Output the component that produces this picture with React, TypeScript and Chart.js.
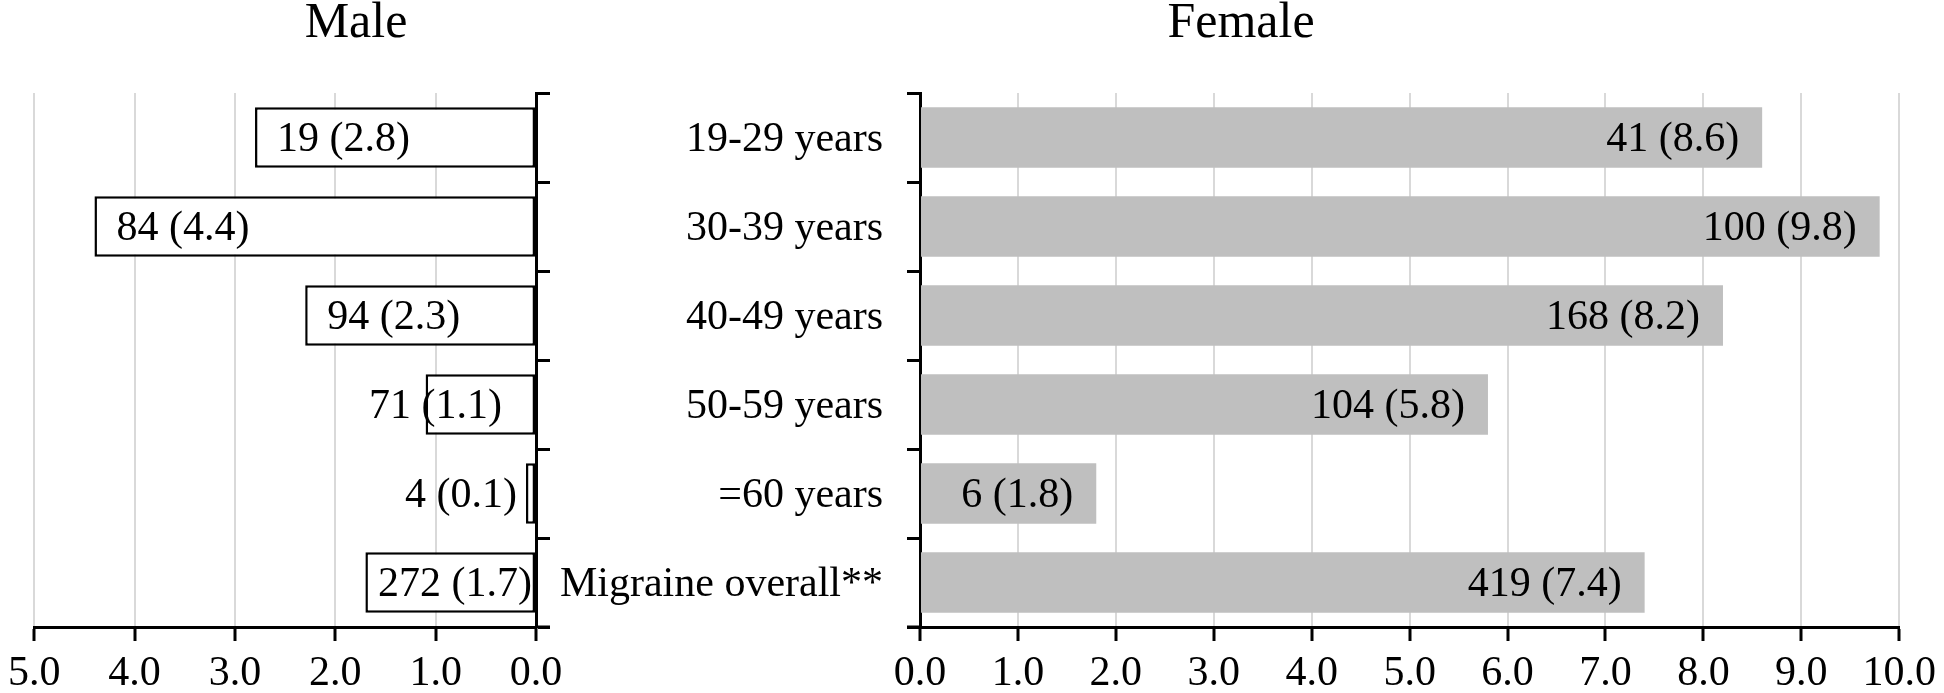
import React, { useEffect, useRef } from 'react';
import { Chart, registerables } from 'chart.js';

Chart.register(...registerables);

const categories = ['19-29 years', '30-39 years', '40-49 years', '50-59 years', '=60 years', 'Migraine overall**'];
const maleCounts = [19, 84, 94, 71, 4, 272];
const maleRates = [2.8, 4.4, 2.3, 1.1, 0.1, 1.7];
const femaleCounts = [41, 100, 168, 104, 6, 419];
const femaleRates = [8.6, 9.8, 8.2, 5.8, 1.8, 7.4];
const maleAxisMax = 5;
const femaleAxisMax = 10;

const FONT = '"Liberation Serif", "Times New Roman", serif';
const FS = 42;

Chart.defaults.font.family = FONT;
Chart.defaults.color = '#000';

function labelPlugin(side: 'male' | 'female', counts: number[], rates: number[]) {
  return {
    id: 'barLabels',
    afterDatasetsDraw(chart: any) {
      const ctx = chart.ctx;
      const meta = chart.getDatasetMeta(0);
      ctx.save();
      ctx.font = `${FS}px ${FONT}`;
      ctx.fillStyle = '#000';
      ctx.textBaseline = 'middle';
      meta.data.forEach((bar: any, i: number) => {
        const p = bar.getProps(['x', 'y', 'base'], true);
        const text = `${counts[i]} (${rates[i].toFixed(1)})`;
        const tw = ctx.measureText(text).width;
        const barW = Math.abs(p.x - p.base);
        const y = p.y + 2;
        if (side === 'female') {
          const pad = Math.max(0, Math.min(23, (barW - tw) / 2));
          ctx.textAlign = 'right';
          ctx.fillText(text, p.x - pad, y);
        } else {
          if (tw + 8 <= barW) {
            ctx.textAlign = 'left';
            ctx.fillText(text, p.x + Math.min(22, barW - tw - 3), y);
          } else if (barW > 40) {
            ctx.textAlign = 'right';
            ctx.fillText(text, p.base - 33, y);
          } else {
            ctx.textAlign = 'right';
            ctx.fillText(text, p.x - 9, y);
          }
        }
      });
      ctx.restore();
    },
  };
}

function axisExtPlugin(side: 'male' | 'female') {
  return {
    id: 'axisExt',
    afterDraw(chart: any) {
      const { ctx, chartArea } = chart;
      const y = chart.scales.x.top;
      ctx.save();
      ctx.strokeStyle = '#000';
      ctx.lineWidth = 3;
      ctx.beginPath();
      if (side === 'male') {
        ctx.moveTo(chartArea.right, y);
        ctx.lineTo(chartArea.right + 14, y);
      } else {
        ctx.moveTo(chartArea.left - 13, y);
        ctx.lineTo(chartArea.left, y);
      }
      ctx.stroke();
      ctx.restore();
    },
  };
}

function panelTitlePlugin(text: string, x: number) {
  return {
    id: 'panelTitle',
    afterDraw(chart: any) {
      const ctx = chart.ctx;
      ctx.save();
      ctx.font = `50px ${FONT}`;
      ctx.fillStyle = '#000';
      ctx.textAlign = 'center';
      ctx.textBaseline = 'alphabetic';
      ctx.fillText(text, x, 37);
      ctx.restore();
    },
  };
}

function xScale(max: number, reverse: boolean) {
  return {
    type: 'linear',
    reverse,
    min: 0,
    max,
    ticks: {
      stepSize: 1,
      autoSkip: false,
      maxRotation: 0,
      padding: 8,
      color: '#000',
      font: { size: FS },
      callback: (v: any) => Number(v).toFixed(1),
    },
    grid: { color: '#d9d9d9', lineWidth: 2, tickColor: '#000', tickWidth: 3, tickLength: 14 },
    border: { color: '#000', width: 3 },
    afterFit: (s: any) => {
      s.height = 66;
    },
  };
}

export default function App() {
  const lRef = useRef<HTMLCanvasElement | null>(null);
  const rRef = useRef<HTMLCanvasElement | null>(null);

  useEffect(() => {
    const male = new Chart(lRef.current as HTMLCanvasElement, {
      type: 'bar',
      data: {
        labels: categories,
        datasets: [
          {
            data: maleRates,
            backgroundColor: '#ffffff',
            borderColor: '#000000',
            borderWidth: 2.5,
            borderSkipped: false,
            barPercentage: 0.68,
            categoryPercentage: 1,
          },
        ],
      },
      options: {
        responsive: false,
        animation: false,
        indexAxis: 'y',
        layout: { padding: { left: 27, right: 0, top: 93, bottom: 0 } },
        plugins: { legend: { display: false }, tooltip: { enabled: false }, title: { display: false } },
        scales: {
          x: xScale(maleAxisMax, true) as any,
          y: {
            position: 'right',
            ticks: { display: false },
            grid: { drawOnChartArea: false, tickLength: 14, tickColor: '#000', tickWidth: 3, offset: true },
            border: { color: '#000', width: 3 },
            afterFit: (s: any) => {
              s.width = 149;
            },
          },
        },
      } as any,
      plugins: [labelPlugin('male', maleCounts, maleRates), axisExtPlugin('male'), panelTitlePlugin('Male', 356)],
    });

    const female = new Chart(rRef.current as HTMLCanvasElement, {
      type: 'bar',
      data: {
        labels: categories,
        datasets: [
          {
            data: femaleRates,
            backgroundColor: '#bfbfbf',
            borderWidth: 0,
            barPercentage: 0.68,
            categoryPercentage: 1,
          },
        ],
      },
      options: {
        responsive: false,
        animation: false,
        indexAxis: 'y',
        layout: { padding: { left: 0, right: 37, top: 93, bottom: 0 } },
        plugins: { legend: { display: false }, tooltip: { enabled: false }, title: { display: false } },
        scales: {
          x: xScale(femaleAxisMax, false) as any,
          y: {
            position: 'left',
            ticks: { color: '#000', font: { size: FS }, padding: 24, autoSkip: false, labelOffset: 2 },
            grid: { drawOnChartArea: false, tickLength: 13, tickColor: '#000', tickWidth: 3, offset: true },
            border: { color: '#000', width: 3 },
            afterFit: (s: any) => {
              s.width = 377;
            },
          },
        },
      } as any,
      plugins: [labelPlugin('female', femaleCounts, femaleRates), axisExtPlugin('female'), panelTitlePlugin('Female', 698)],
    });

    return () => {
      male.destroy();
      female.destroy();
    };
  }, []);

  return (
    <div style={{ position: 'fixed', left: 0, top: 0, width: 1944, height: 693, background: '#fff' }}>
      <canvas
        ref={lRef}
        width={685}
        height={693}
        style={{ position: 'absolute', left: 0, top: 0, width: 685, height: 693 }}
      />
      <canvas
        ref={rRef}
        width={1401}
        height={693}
        style={{ position: 'absolute', left: 543, top: 0, width: 1401, height: 693 }}
      />
    </div>
  );
}
